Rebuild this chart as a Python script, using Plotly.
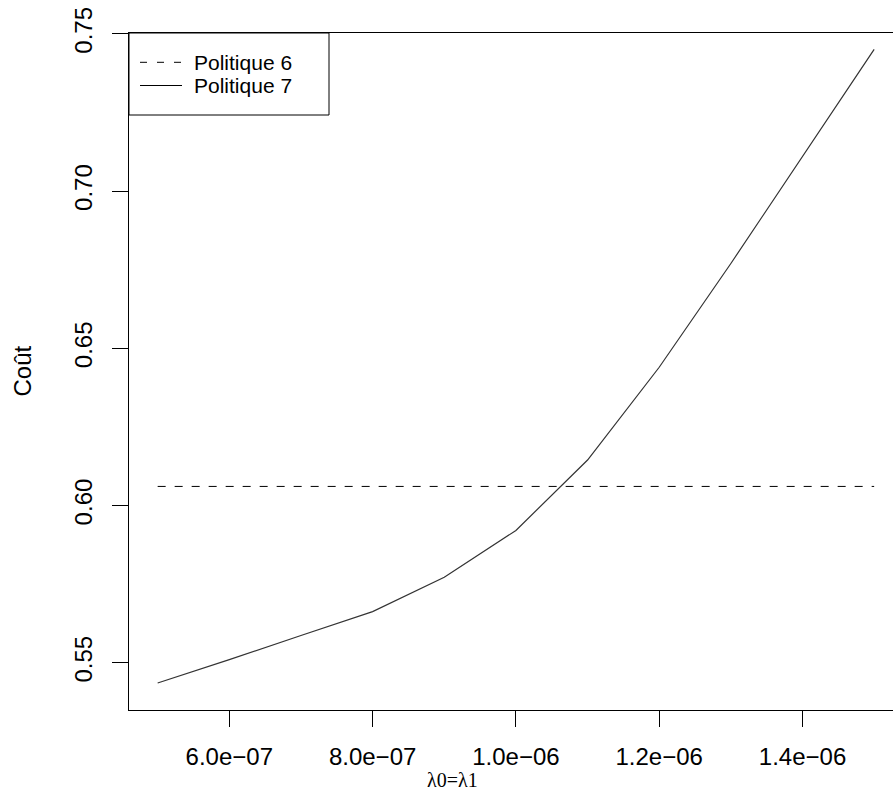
import plotly.graph_objects as go

# ---- data ----
lam = [5e-7, 6e-7, 7e-7, 8e-7, 9e-7, 1.0e-6, 1.1e-6, 1.2e-6, 1.3e-6, 1.4e-6, 1.5e-6]
cout_p6 = [0.6061] * 11
cout_p7 = [0.5436, 0.5510, 0.5587, 0.5663, 0.5772, 0.5921, 0.6145, 0.6440, 0.6770, 0.7110, 0.7451]
x_tickvals = [6e-7, 8e-7, 1.0e-6, 1.2e-6, 1.4e-6]
x_ticktext = ["6.0e\u221207", "8.0e\u221207", "1.0e\u221206", "1.2e\u221206", "1.4e\u221206"]
y_tickvals = [0.55, 0.60, 0.65, 0.70, 0.75]
y_ticktext = ["0.55", "0.60", "0.65", "0.70", "0.75"]
series_names = ["Politique 6", "Politique 7"]

# ---- layout geometry (pixels) ----
W, H = 893, 793
L, R, T, B = 129, 0, 33, 83
PW, PH = W - L - R, H - T - B


def px(x):
    return (x - L) / PW


def py(y):
    return (H - B - y) / PH


FONT = "Liberation Sans, Arial, sans-serif"

fig = go.Figure()
fig.add_trace(go.Scatter(x=lam, y=cout_p6, mode="lines", name=series_names[0],
                         line=dict(color="black", width=1, dash="8px,9px"), showlegend=False))
fig.add_trace(go.Scatter(x=lam, y=cout_p7, mode="lines", name=series_names[1],
                         line=dict(color="#333333", width=1.2), showlegend=False))

shapes = [
    dict(type="rect", xref="paper", yref="paper", x0=px(129), x1=px(329), y0=py(115), y1=py(33),
         line=dict(color="black", width=1), fillcolor="rgba(0,0,0,0)"),
    dict(type="line", xref="paper", yref="paper", x0=px(140), x1=px(182), y0=py(62.3), y1=py(62.3),
         line=dict(color="black", width=1, dash="7px,10px")),
    dict(type="line", xref="paper", yref="paper", x0=px(140), x1=px(182), y0=py(85.5), y1=py(85.5),
         line=dict(color="black", width=1)),
]
annotations = [
    dict(text=series_names[0], xref="paper", yref="paper", x=px(192), y=py(63), xanchor="left",
         yanchor="middle", showarrow=False, font=dict(family=FONT, size=21, color="black")),
    dict(text=series_names[1], xref="paper", yref="paper", x=px(192), y=py(85), xanchor="left",
         yanchor="middle", showarrow=False, font=dict(family=FONT, size=21, color="black")),
    dict(text="Coût", xref="paper", yref="paper", x=px(22), y=0.5, xanchor="center",
         yanchor="middle", textangle=-90, showarrow=False,
         font=dict(family=FONT, size=24, color="black")),
    dict(text="\u03bb0=\u03bb1", xref="paper", yref="paper", x=px(452), y=py(780), xanchor="center",
         yanchor="middle", showarrow=False,
         font=dict(family="Liberation Serif, Times New Roman, serif", size=20, color="black")),
]

fig.update_layout(
    width=W, height=H,
    margin=dict(l=L, r=R, t=T, b=B, pad=0),
    paper_bgcolor="white", plot_bgcolor="white",
    showlegend=False,
    shapes=shapes, annotations=annotations,
    font=dict(family=FONT, size=24, color="black"),
)
fig.update_xaxes(
    range=[4.6e-7, 1.5263e-6], tickvals=x_tickvals, ticktext=x_ticktext,
    showgrid=False, zeroline=False, showline=True, linecolor="black", linewidth=1,
    mirror=True, ticks="outside", ticklen=16, tickcolor="black", tickwidth=1,
    tickfont=dict(family=FONT, size=24, color="black"), ticklabelstandoff=9,
)
fig.update_yaxes(
    range=[0.535, 0.7503], tickvals=y_tickvals, ticktext=y_ticktext,
    showgrid=False, zeroline=False, showline=True, linecolor="black", linewidth=1,
    mirror=False, ticks="outside", ticklen=16, tickcolor="black", tickwidth=1,
    tickangle=-90, tickfont=dict(family=FONT, size=24, color="black"), ticklabelstandoff=10,
)

fig.write_html(
    "out.html",
    config={"displayModeBar": False},
    post_script="document.body.style.margin='0';document.body.style.overflow='hidden';",
)
